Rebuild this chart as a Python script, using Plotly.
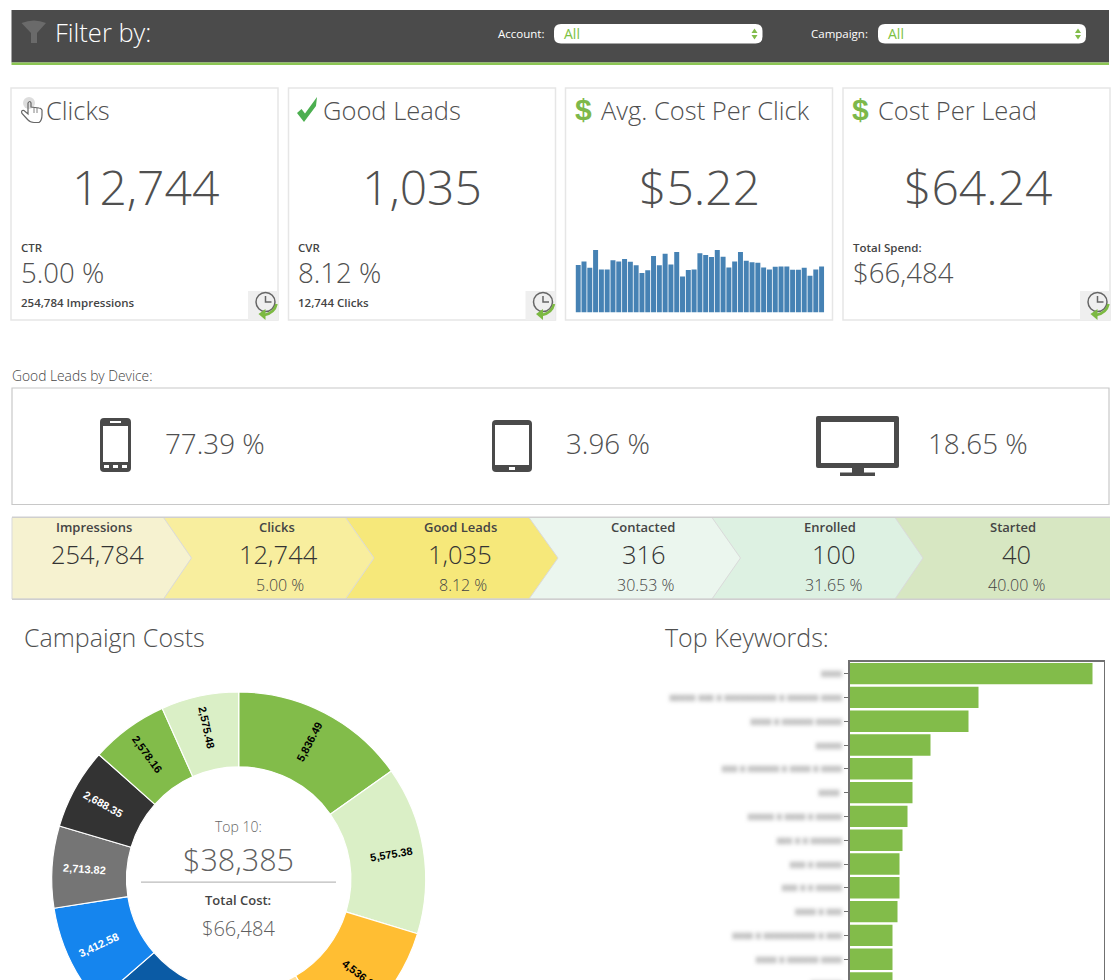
import math
import plotly.graph_objects as go

W, H = 1120, 1080  # the figure runs past the 980px window so the donut and the bars crop at the bottom

# ---- data ----
cpc_daily = [5.50, 5.92, 5.19, 7.24, 4.99, 4.99, 6.04, 5.92, 6.19, 5.88, 5.46, 4.57, 4.88, 6.54, 5.46,
             6.81, 5.57, 7.00, 4.18, 4.91, 4.99, 6.85, 6.66, 6.42, 7.24, 6.46, 5.22, 5.92, 7.00, 6.00,
             5.81, 5.77, 5.22, 4.99, 5.30, 5.34, 5.34, 4.95, 4.95, 5.19, 4.26, 4.99, 5.34]
campaign_costs = [5836.49, 5575.38, 4536.20, 4310.00, 4160.00, 3412.58, 2713.82, 2688.35, 2578.16, 2575.48]
campaign_colors = ["#82BC4A", "#DAEFC6", "#FFBE33", "#FFDE99", "#0B5BA5", "#1585EE", "#757575", "#333333", "#82BC4A", "#DAEFC6"]
campaign_text = ["#000000", "#000000", "#000000", "#000000", "#FFFFFF", "#FFFFFF", "#FFFFFF", "#FFFFFF", "#000000", "#000000"]
# The reference blurs these labels out, so the strings are length-matched placeholders.
keyword_labels = ["xxxx", "xxxxx xxx x xxxxxxxxxx x xxxxxx xxxx", "xxxx x xxxxxx xxxxx", "xxxxx", "xxx x xxxxxx x xxxx x xxxx",
                  "xxxx ", "xxxxx x xxxx x xxxxx", "xxx x x xxxxxx", "xxx x xxxxx", "xxx x x xxxxx", "xxxx x xxx",
                  "xxxx x xxxxxxxxxx x xxx", "xxxx x xxxxxx xxxx", "xxxxxx"]
keyword_values = [243, 129, 119, 81, 63, 63, 58, 53, 50, 50, 48, 43, 43, 43]
funnel_names = ["Impressions", "Clicks", "Good Leads", "Contacted", "Enrolled", "Started"]
funnel_values = ["254,784", "12,744", "1,035", "316", "100", "40"]
funnel_rates = ["", "5.00 %", "8.12 %", "30.53 %", "31.65 %", "40.00 %"]
funnel_colors = ["#F6F2D0", "#F8EE9E", "#F6E87A", "#EBF6EE", "#DDF1E2", "#D7E7C2"]

FONT = "Open Sans"
GREEN = "#82BC4A"
TXT = "#505050"


def X(p):
    return p / W


def Y(p):
    return 1 - p / H


shapes = []
annots = []


def rect(x0, y0, x1, y1, fill="rgba(0,0,0,0)", line=None, lw=0):
    shapes.append(dict(type="rect", layer="below", xref="paper", yref="paper", x0=X(x0), x1=X(x1), y0=Y(y1), y1=Y(y0),
                       fillcolor=fill, line=dict(color=line or fill, width=lw)))


def path(cmds, fill="rgba(0,0,0,0)", line=None, lw=0):
    out = []
    is_x = True
    for tok in cmds.split():
        if tok[0].isalpha():
            out.append(tok)
            is_x = True
        else:
            v = float(tok)
            out.append(f"{X(v) if is_x else Y(v):.5f}")
            is_x = not is_x
    shapes.append(dict(type="path", layer="below", xref="paper", yref="paper", path=" ".join(out),
                       fillcolor=fill, line=dict(color=line or "rgba(0,0,0,0)", width=lw)))


def rrect(x0, y0, x1, y1, r, fill):
    path(f"M {x0+r} {y0} L {x1-r} {y0} Q {x1} {y0} {x1} {y0+r} L {x1} {y1-r} Q {x1} {y1} {x1-r} {y1} "
         f"L {x0+r} {y1} Q {x0} {y1} {x0} {y1-r} L {x0} {y0+r} Q {x0} {y0} {x0+r} {y0} Z", fill=fill)


def text(x, y, s, size, color=TXT, weight=300, anchor="left", family=FONT, angle=0):
    annots.append(dict(xref="paper", yref="paper", x=X(x), y=Y(y), text=s, showarrow=False,
                       xanchor=anchor, yanchor="middle", borderpad=0, borderwidth=0, textangle=angle,
                       font=dict(family=family, size=size, color=color, weight=weight)))


# ---- header ----
rect(11.5, 10, 1109, 62.5, fill="#4B4B4B")
rect(11.5, 62.5, 1109, 65, fill="#8CC653")
path("M 21.5 23 Q 34 18 46 23 L 37 33 L 37 43 L 31 43 L 31 33 Z", fill="#6A6A6A")
text(54.5, 31.5, "Filter by:", 25.5, "#FFFFFF")
text(544, 33.5, "Account:", 11.5, "#FFFFFF", 400, "right")
text(868, 33.5, "Campaign:", 11.5, "#FFFFFF", 400, "right")
for x0, x1 in [(554, 762.5), (878, 1086)]:
    rrect(x0, 24, x1, 43.5, 7, "#FFFFFF")
    text(x0 + 10, 33, "All", 14, "#7CC142", 400)
    ax = x1 - 8
    path(f"M {ax-3} 33 L {ax+3} 33 L {ax} 28.5 Z", fill=GREEN)
    path(f"M {ax-3} 35 L {ax+3} 35 L {ax} 39.5 Z", fill=GREEN)

# ---- KPI cards ----
for x0, x1 in [(11, 278), (288.5, 555.5), (565.5, 832.5), (843, 1110)]:
    rect(x0, 88, x1, 320, fill="#FFFFFF", line="#E6E6E6", lw=1.5)


def clock(x1):
    rect(x1 - 30, 291, x1, 320, fill="#EFEFEF")
    cx, cy = x1 - 12.5, 302
    shapes.append(dict(type="circle", layer="below", xref="paper", yref="paper", x0=X(cx - 9.5), x1=X(cx + 9.5),
                       y0=Y(cy + 9.5), y1=Y(cy - 9.5), line=dict(color="#666666", width=1.5)))
    path(f"M {cx} {cy-6} L {cx} {cy} L {cx+6} {cy}", line="#666666", lw=1.5)
    path(f"M {cx+11} {cy+2} Q {cx+9} {cy+11} {cx-1} {cy+13}", line="#7CB942", lw=2.6)
    path(f"M {cx-7} {cy+12} L {cx} {cy+7} L {cx} {cy+18} Z", fill="#7CB942")


for xr in (278, 555.5, 1110):
    clock(xr)

# hand
shapes.append(dict(type="circle", layer="below", xref="paper", yref="paper", x0=X(23), x1=X(35), y0=Y(109), y1=Y(97),
                   fillcolor="#DDDDDD", line=dict(width=0)))
path("M 28 103 L 28 114 L 24 110.5 Q 20.5 110 22 113.5 L 28 120 Q 30 122.5 34 122.5 L 39 122.5 "
     "Q 42 120.5 42 115 L 42 110 Q 41 108 39 108 L 31 107 L 31 103 Q 30 100 28 103 Z", line="#666666", lw=1.2)
path("M 34 108 L 34 113 M 37 108 L 37 113", line="#666666", lw=0.8)
# check mark
path("M 297 113 L 301.5 109 L 305 113.5 L 317 97 L 316 106 L 304 122 Z", fill="#4CAF50")
text(583, 109, "$", 30, "#7DB84A", 700, "center", "Liberation Sans")
text(860.5, 109, "$", 30, "#7DB84A", 700, "center", "Liberation Sans")

text(46, 110, "Clicks", 25.5)
text(323.5, 110, "Good Leads", 25.5)
text(600.5, 110, "Avg. Cost Per Click", 25.5)
text(878, 110, "Cost Per Lead", 25.5)

text(145, 186, "12,744", 48, anchor="center")
text(422, 186, "1,035", 48, anchor="center")
text(699.5, 186, "$5.22", 48, anchor="center")
text(977.5, 186, "$64.24", 48, anchor="center")

text(21, 247, "CTR", 11.5, "#444444", 600)
text(298, 247, "CVR", 11.5, "#444444", 600)
text(853, 247, "Total Spend:", 11.5, "#444444", 600)
text(21, 272, "5.00 %", 27.6)
text(298, 272, "8.12 %", 27.6)
text(853, 272, "$66,484", 27.6)
text(21, 302, "254,784 Impressions", 11.5, "#444444", 600)
text(298, 302, "12,744 Clicks", 11.5, "#444444", 600)

# ---- device box ----
text(12, 375, "Good Leads by Device:", 13.8, "#444444")
rect(12, 388, 1109, 504.5, fill="#FFFFFF", line="#C8C8C8", lw=1.2)
DEV = "#4A4A4A"
rrect(100, 418, 131, 472, 4, DEV)
rect(103, 426, 128, 462, fill="#FFFFFF")
rect(110, 421, 121, 423, fill="#FFFFFF")
for dx in (104, 113, 122):
    rect(dx, 465, dx + 5, 468, fill="#FFFFFF")
rrect(492, 420, 532, 472, 4, DEV)
rect(495, 425, 529, 465, fill="#FFFFFF")
rect(509, 467, 515, 470, fill="#FFFFFF")
rrect(816, 416, 899, 468, 2, DEV)
rect(821, 422, 894, 463, fill="#FFFFFF")
rect(852, 468, 864, 473, fill=DEV)
rect(840, 472.5, 875, 476, fill=DEV)
text(165, 443, "77.39 %", 27.8)
text(566, 443, "3.96 %", 27.8)
text(928, 443, "18.65 %", 27.8)

# ---- funnel ----
edges = [(12, 12), (163.5, 191.5), (345.5, 374), (529, 558), (712, 740.5), (895, 923), (1110, 1110)]
ft, fb, fm = 517.5, 599, 558
for i in range(5, -1, -1):
    (a, atip), (b, btip) = edges[i], edges[i + 1]
    p = f"M {a} {ft} L {b} {ft} L {btip} {fm} L {b} {fb} L {a} {fb} Z"
    path(p, fill=funnel_colors[i], line="#DADADA" if i < 5 else None, lw=1 if i < 5 else 0)
rect(12, 516.5, 1110, 518, fill="#CFCFCF")
rect(12, 598.5, 1110, 600, fill="#CFCFCF")
name_x = [94, 277, 460, 643, 830, 1013]
val_x = [97, 278, 460, 644, 834, 1016]
rate_x = [0, 280, 463, 646, 834, 1017]
for i in range(6):
    text(name_x[i], 526.5, funnel_names[i], 13, "#444444", 600, "center")
    text(val_x[i], 554, funnel_values[i], 25.5, "#333333", 300, "center")
    if funnel_rates[i]:
        text(rate_x[i], 584.5, funnel_rates[i], 16, "#444444", 300, "center")

# ---- bottom headings and donut centre ----
text(23.5, 637, "Campaign Costs", 25)
text(665, 637, "Top Keywords:", 25)
text(238, 826.5, "Top 10:", 14, "#666666", 300, "center")
text(238, 859, "$38,385", 30.5, "#5F5F5F", 300, "center")
rect(141, 881.5, 336, 882.7, fill="#BBBBBB")
text(238, 900, "Total Cost:", 13, "#444444", 600, "center")
text(238, 928, "$66,484", 20, "#5F5F5F", 300, "center")

# Donut value labels: each sits on its slice's middle angle, worked out from the costs.
CX, CY, LABEL_R = 238.7, 879, 155
total_cost = sum(campaign_costs)
running = 0
for cost, tcol in zip(campaign_costs, campaign_text):
    mid = (running + cost / 2) / total_cost * 360
    running += cost
    rad = math.radians(mid)
    tilt = mid - 90 if mid < 180 else mid - 270
    text(CX + LABEL_R * math.sin(rad), CY - LABEL_R * math.cos(rad), f"{cost:,.2f}", 11, tcol, 700, "center",
         "Liberation Sans", tilt)

fig = go.Figure()
fig.add_trace(go.Bar(x=list(range(1, len(cpc_daily) + 1)), y=cpc_daily, width=0.86,
                     marker=dict(color="#4682B4", line=dict(width=0)), xaxis="x", yaxis="y", hoverinfo="skip"))
fig.add_trace(go.Bar(x=keyword_values, y=keyword_labels, orientation="h", width=0.9,
                     marker=dict(color="#82BC4A", line=dict(width=0)), xaxis="x2", yaxis="y2", hoverinfo="skip"))
fig.add_trace(go.Pie(values=campaign_costs, sort=False, direction="clockwise", rotation=0, hole=0.6,
                     marker=dict(colors=campaign_colors, line=dict(color="#FFFFFF", width=1.2)),
                     textinfo="none", domain=dict(x=[X(51.7), X(425.7)], y=[Y(1066), Y(692)]),
                     hoverinfo="skip", automargin=False))

band = 23.8
fig.update_layout(
    width=W, height=H, margin=dict(l=0, r=0, t=0, b=0, pad=0), showlegend=False,
    paper_bgcolor="#FFFFFF", plot_bgcolor="rgba(0,0,0,0)", barmode="overlay",
    shapes=shapes, annotations=annots,
    xaxis=dict(domain=[X(575.3), X(824.5)], range=[0.5, len(cpc_daily) + 0.5], visible=False, fixedrange=True),
    yaxis=dict(domain=[Y(312.5), Y(250)], range=[0, max(cpc_daily)], visible=False, fixedrange=True),
    xaxis2=dict(domain=[X(849.5), X(1103.5)], range=[0, 254], anchor="y2", side="top", showticklabels=False,
                ticks="", showgrid=False, zeroline=False, showline=True, linecolor="#707070", linewidth=1.5,
                fixedrange=True),
    yaxis2=dict(domain=[0, Y(661.7)], anchor="x2", type="category", range=[(H - 661.7) / band - 0.5, -0.5],
                ticks="outside", ticklen=4, tickcolor="#707070", tickwidth=1, showgrid=False, zeroline=False,
                showline=True, linecolor="#707070", linewidth=1.5, mirror=True, dtick=1,
                tickfont=dict(family=FONT, size=10, color="#444444"), fixedrange=True),
)

post = """
document.documentElement.style.overflow='hidden';
document.body.style.margin='0';
document.body.style.height='980px';
document.body.style.overflow='hidden';
var s=document.createElement('style');
s.textContent='.y2tick text{filter:blur(2px);}';
document.head.appendChild(s);
"""
fig.write_html("out.html", config=dict(displayModeBar=False, staticPlot=True), post_script=post)
